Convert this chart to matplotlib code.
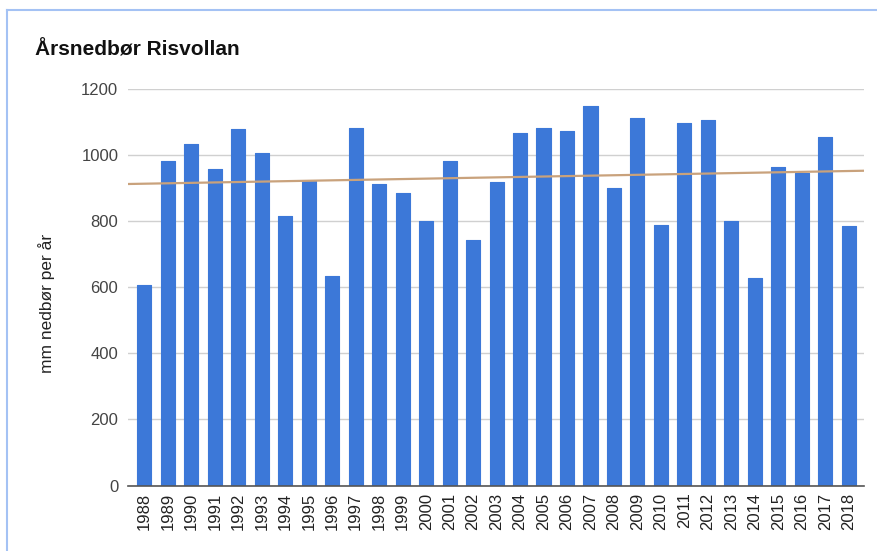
import matplotlib
matplotlib.use("Agg")
import matplotlib.pyplot as plt
import numpy as np

years = [str(y) for y in range(1988, 2019)]
values = [607, 983, 1034, 958, 1079, 1008, 816, 923, 634, 1084,
          913, 887, 801, 984, 743, 918, 1068, 1083, 1074, 1149,
          900, 1114, 789, 1097, 1106, 802, 628, 964, 945, 1055, 786]
yticks = [0, 200, 400, 600, 800, 1000, 1200]
title = "Årsnedbør Risvollan"
ylabel = "mm nedbør per år"

plt.rcParams['font.family'] = ['Liberation Sans', 'DejaVu Sans']

W, H = 878, 551
fig = plt.figure(figsize=(W / 100, H / 100), dpi=100)
fig.patch.set_facecolor('white')

L, R, T, B = 128, 864, 89.3, 485.5
ax = fig.add_axes([L / W, 1 - B / H, (R - L) / W, (B - T) / H])

x = np.arange(len(years))
ax.bar(x, values, width=0.6, color='#3c78d8', edgecolor='#3c78d8',
       linewidth=0.8, joinstyle='round', zorder=3)

xlim = (-0.70, len(years) - 1 + 0.65)
coef = np.polyfit(x, values, 1)
xs = np.array(xlim)
ax.plot(xs, np.polyval(coef, xs), color='#c9a27c', lw=1.6, zorder=4)

ax.set_xlim(*xlim)
ax.set_ylim(0, 1200)
ax.set_yticks(yticks)
ax.set_yticklabels([str(v) for v in yticks], fontsize=12, color='#444444')
ax.set_xticks(x)
ax.set_xticklabels(years, rotation=90, fontsize=12, color='#222222')
ax.tick_params(axis='both', length=0)
ax.tick_params(axis='y', pad=7)
ax.tick_params(axis='x', pad=5)
ax.grid(axis='y', color='#d0d0d0', lw=1, zorder=0)
for s in ['top', 'right', 'left']:
    ax.spines[s].set_visible(False)
ax.spines['bottom'].set_color('#555555')
ax.spines['bottom'].set_linewidth(1.2)
ax.spines['bottom'].set_zorder(5)

fig.text(35 / W, 1 - 50 / H, title, fontsize=15, fontweight='bold',
         color='#111111', ha='left', va='center')
fig.text(47 / W, 1 - 303 / H, ylabel, fontsize=12.5, color='#222222',
         rotation=90, ha='center', va='center')

# screenshot border (top and left)
fig.add_artist(plt.Line2D([7 / W, 1], [1 - 9.5 / H, 1 - 9.5 / H],
                          color='#a4c2f4', lw=1.5, transform=fig.transFigure))
fig.add_artist(plt.Line2D([7 / W, 7 / W], [0, 1 - 9.5 / H],
                          color='#a4c2f4', lw=1.5, transform=fig.transFigure))

fig.savefig('out.png', dpi=100)
